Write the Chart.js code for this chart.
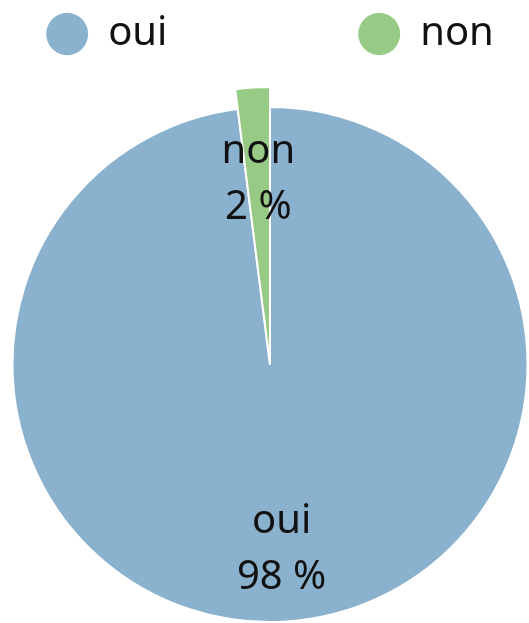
<!DOCTYPE html>
<html>
<head>
<meta charset="utf-8">
<script src="https://cdn.jsdelivr.net/npm/chart.js@4.4.1/dist/chart.umd.min.js"></script>
<style>
  html, body { margin: 0; padding: 0; background: #fff; }
  #wrap { width: 529px; height: 623px; position: relative; }
</style>
</head>
<body>
<div id="wrap"><canvas id="pie-chart"></canvas></div>
<script>
const labels = ['oui', 'non'];
const percents = [98, 2];
const colors = ['#8ab1cd', '#97cb85'];

// extra room between legend and pie
const legendGap = {
    id: 'legendGap',
    beforeInit(chart) {
        const fit = chart.legend.fit;
        chart.legend.fit = function () {
            fit.call(this);
            this.height += 42;
        };
    }
};

// the "non" slice sticks out past the rest of the pie
const bigSlice = {
    id: 'bigSlice',
    afterDatasetsUpdate(chart) {
        const arc = chart.getDatasetMeta(0).data[1];
        if (arc) arc.outerRadius += 20;
    }
};

// label + percent inside each slice
const sliceLabels = {
    id: 'sliceLabels',
    afterDatasetsDraw(chart) {
        const ctx = chart.ctx;
        const meta = chart.getDatasetMeta(0);
        const base = meta.data[0].outerRadius;
        ctx.save();
        ctx.font = '40px "Noto Sans"';
        ctx.fillStyle = '#111';
        ctx.textAlign = 'center';
        ctx.textBaseline = 'middle';
        meta.data.forEach((arc, i) => {
            const mid = (arc.startAngle + arc.endAngle) / 2;
            const d = base * 0.72;
            const x = arc.x + Math.cos(mid) * d;
            const y = arc.y + Math.sin(mid) * d;
            ctx.fillText(labels[i], x, y - 28);
            ctx.fillText(percents[i] + ' %', x, y + 28);
        });
        ctx.restore();
    }
};

new Chart(document.getElementById('pie-chart'), {
    type: 'pie',
    data: {
        labels: labels,
        datasets: [{
            data: percents,
            backgroundColor: colors,
            borderColor: '#fff',
            borderWidth: 2,
            clip: false
        }]
    },
    options: {
        responsive: true,
        maintainAspectRatio: false,
        animation: false,
        layout: { padding: { left: 11 } },
        plugins: {
            tooltip: { enabled: false },
            legend: {
                position: 'top',
                labels: {
                    usePointStyle: true,
                    pointStyle: 'circle',
                    pointStyleWidth: 42,
                    boxHeight: 30,
                    padding: 14,
                    color: '#111',
                    font: { family: 'Noto Sans', size: 40 },
                    generateLabels(chart) {
                        const items = Chart.overrides.pie.plugins.legend.labels.generateLabels(chart);
                        // widen the first item so the two sit far apart
                        items[0].text = items[0].text.padEnd(20, ' ');
                        items.forEach(it => { it.lineWidth = 0; });
                        return items;
                    }
                }
            }
        }
    },
    plugins: [legendGap, bigSlice, sliceLabels]
});
</script>
</body>
</html>
